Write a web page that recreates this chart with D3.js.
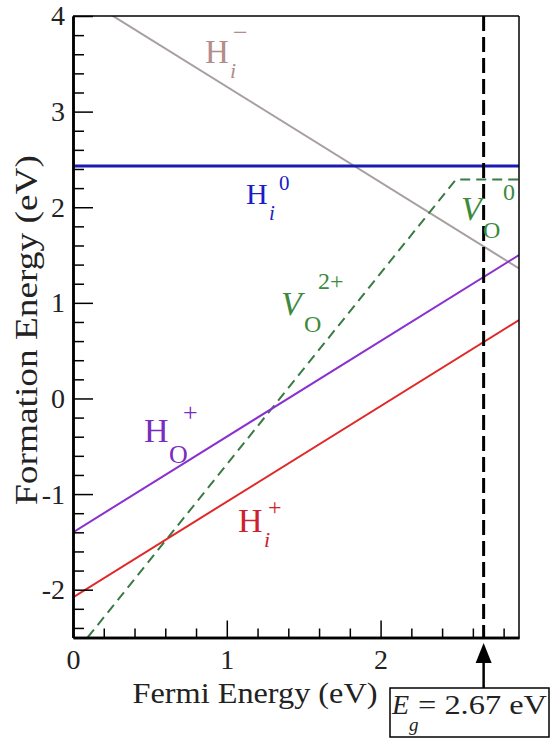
<!DOCTYPE html>
<html>
<head>
<meta charset="utf-8">
<script src="https://cdn.jsdelivr.net/npm/d3@7"></script>
<style>
  html, body { margin: 0; padding: 0; background: #fff; }
  svg { display: block; }
</style>
</head>
<body>
<svg id="chart" width="551" height="738"></svg>
<script>
// Fermi-level axis and formation-energy axis ranges (eV)
const fermiRange = [0, 2.9];
const energyRange = [-2.5, 4];
const fermiMajorTicks = [0, 1, 2];
const fermiMinorTicks = [0.2, 0.4, 0.6, 0.8, 1.2, 1.4, 1.6, 1.8, 2.2, 2.4, 2.6, 2.8];
const energyMajorTicks = [-2, -1, 0, 1, 2, 3, 4];
const energyMinorTicks = [-2.4, -2.2, -1.8, -1.6, -1.4, -1.2, -0.8, -0.6, -0.4, -0.2,
  0.2, 0.4, 0.6, 0.8, 1.2, 1.4, 1.6, 1.8, 2.2, 2.4, 2.6, 2.8, 3.2, 3.4, 3.6, 3.8];

// Formation energy vs Fermi energy, [E_F, E_form] points of each defect
const hiMinus = [[0, 4.26], [2.9, 1.36]];
const hiNeutral = [[0, 2.43], [2.9, 2.43]];
const voLine = [[0.095, -2.5], [2.49, 2.29], [2.9, 2.29]];
const hoPlus = [[0, -1.40], [2.9, 1.50]];
const hiPlus = [[0, -2.08], [2.9, 0.82]];
const bandGap = 2.67;

const SERIF = '"Liberation Serif", "Times New Roman", Tinos, serif';

const svg = d3.select("#chart");
const m = { left: 73, right: 519, top: 16, bottom: 637.5 };
const x = d3.scaleLinear().domain(fermiRange).range([m.left, m.right]);
const y = d3.scaleLinear().domain(energyRange).range([m.bottom, m.top]);

svg.append("defs").append("clipPath").attr("id", "plotClip")
  .append("rect").attr("x", m.left).attr("y", m.top)
  .attr("width", m.right - m.left).attr("height", m.bottom - m.top);

const line = d3.line().x(d => x(d[0])).y(d => y(d[1]));
const plot = svg.append("g").attr("clip-path", "url(#plotClip)");

plot.append("path").datum(hiMinus).attr("d", line)
  .attr("fill", "none").attr("stroke", "#a89f9f").attr("stroke-width", 2);
plot.append("path").datum(hiNeutral).attr("d", line)
  .attr("fill", "none").attr("stroke", "#1a1ab4").attr("stroke-width", 3);
plot.append("path").datum(voLine).attr("d", line)
  .attr("fill", "none").attr("stroke", "#3a7a44").attr("stroke-width", 2)
  .attr("stroke-dasharray", "10,6");
plot.append("path").datum(hoPlus).attr("d", line)
  .attr("fill", "none").attr("stroke", "#8a30d0").attr("stroke-width", 2);
plot.append("path").datum(hiPlus).attr("d", line)
  .attr("fill", "none").attr("stroke", "#e02828").attr("stroke-width", 2);

// band-gap marker
plot.append("line")
  .attr("x1", x(bandGap)).attr("x2", x(bandGap))
  .attr("y1", y(energyRange[1])).attr("y2", y(energyRange[0]))
  .attr("stroke", "#000").attr("stroke-width", 3).attr("stroke-dasharray", "15,6");

// frame
svg.append("line").attr("x1", m.left).attr("x2", m.right).attr("y1", m.top).attr("y2", m.top)
  .attr("stroke", "#000").attr("stroke-width", 1.5);
svg.append("line").attr("x1", m.right).attr("x2", m.right).attr("y1", m.top).attr("y2", m.bottom)
  .attr("stroke", "#000").attr("stroke-width", 1.5);

// axes with inward ticks
function styleAxis(g) {
  g.select(".domain").attr("stroke", "#000").attr("stroke-width", 2.5);
  g.selectAll(".tick line").attr("stroke", "#000").attr("stroke-width", 1.5);
  g.selectAll("text").attr("fill", "#222").attr("font-size", 28);
}
const xMinor = svg.append("g").attr("transform", `translate(0,${m.bottom})`)
  .call(d3.axisBottom(x).tickValues(fermiMinorTicks).tickSizeInner(-9).tickSizeOuter(0).tickFormat(""));
styleAxis(xMinor);
const xMajor = svg.append("g").attr("transform", `translate(0,${m.bottom})`)
  .call(d3.axisBottom(x).tickValues(fermiMajorTicks).tickSizeInner(-17).tickSizeOuter(0)
    .tickPadding(12).tickFormat(d => String(d)));
styleAxis(xMajor);

const yMinor = svg.append("g").attr("transform", `translate(${m.left},0)`)
  .call(d3.axisLeft(y).tickValues(energyMinorTicks).tickSizeInner(-11).tickSizeOuter(0).tickFormat(""));
styleAxis(yMinor);
const yMajor = svg.append("g").attr("transform", `translate(${m.left},0)`)
  .call(d3.axisLeft(y).tickValues(energyMajorTicks).tickSizeInner(-20).tickSizeOuter(0)
    .tickPadding(8).tickFormat(d => String(d)));
styleAxis(yMajor);

// axis titles
svg.append("text").attr("x", 255).attr("y", 703).attr("text-anchor", "middle")
  .attr("font-size", 29).attr("fill", "#222")
  .attr("textLength", 245).attr("lengthAdjust", "spacingAndGlyphs")
  .text("Fermi Energy (eV)");
svg.append("text").attr("transform", "translate(37,330) rotate(-90)")
  .attr("text-anchor", "middle").attr("font-size", 31).attr("fill", "#222")
  .attr("textLength", 350).attr("lengthAdjust", "spacingAndGlyphs")
  .text("Formation Energy (eV)");

// defect labels: main symbol, subscript, superscript
function defectLabel(color, parts) {
  const g = svg.append("g").attr("fill", color);
  parts.forEach(p => {
    g.append("text").attr("x", p.x).attr("y", p.y).attr("font-size", p.size)
      .attr("font-style", p.italic ? "italic" : "normal").text(p.t);
  });
}
defectLabel("#b48c8c", [
  { t: "H", x: 205, y: 63, size: 33 },
  { t: "i", x: 230, y: 78, size: 22, italic: true },
  { t: "\u2212", x: 233, y: 41, size: 26 }
]);
defectLabel("#1c1cc8", [
  { t: "H", x: 246, y: 204, size: 30 },
  { t: "i", x: 269, y: 220, size: 21, italic: true },
  { t: "0", x: 279, y: 190, size: 21 }
]);
defectLabel("#3c8a3c", [
  { t: "V", x: 461, y: 220, size: 34, italic: true },
  { t: "O", x: 483, y: 238, size: 24 },
  { t: "0", x: 503, y: 200, size: 24 }
]);
defectLabel("#3c8a3c", [
  { t: "V", x: 281, y: 315, size: 34, italic: true },
  { t: "O", x: 304, y: 332, size: 24 },
  { t: "2+", x: 318, y: 289, size: 24 }
]);
defectLabel("#7b2cc0", [
  { t: "H", x: 144, y: 442, size: 34 },
  { t: "O", x: 169, y: 463, size: 26 },
  { t: "+", x: 183, y: 421, size: 26 }
]);
defectLabel("#cc2230", [
  { t: "H", x: 238, y: 532, size: 34 },
  { t: "i", x: 264, y: 547, size: 22, italic: true },
  { t: "+", x: 268, y: 515, size: 24 }
]);

// band-gap callout
const gx = x(bandGap);
svg.append("line").attr("x1", gx).attr("x2", gx).attr("y1", 688).attr("y2", 660)
  .attr("stroke", "#000").attr("stroke-width", 2.5);
svg.append("path")
  .attr("d", `M${gx},643 L${gx - 8},663 L${gx + 8},663 Z`).attr("fill", "#000");
svg.append("rect").attr("x", 390).attr("y", 688).attr("width", 159).attr("height", 49)
  .attr("fill", "#fff").attr("stroke", "#000").attr("stroke-width", 1.5);
const eg = svg.append("g").attr("fill", "#222");
eg.append("text").attr("x", 392).attr("y", 714).attr("font-size", 28)
  .attr("font-style", "italic").text("E");
eg.append("text").attr("x", 409).attr("y", 731).attr("font-size", 19)
  .attr("font-style", "italic").text("g");
eg.append("text").attr("x", 418).attr("y", 714).attr("font-size", 28)
  .attr("textLength", 129).attr("lengthAdjust", "spacingAndGlyphs")
  .text("= " + bandGap.toFixed(2) + " eV");

// every text in the serif face
svg.selectAll("text").style("font-family", SERIF);
</script>
</body>
</html>
